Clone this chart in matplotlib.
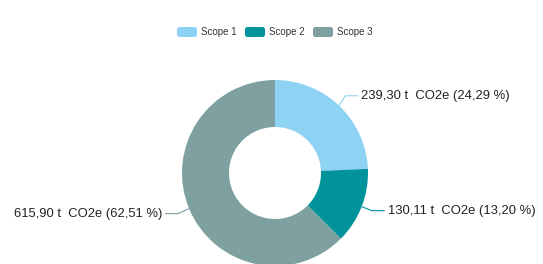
import matplotlib
matplotlib.use("Agg")
import matplotlib.pyplot as plt
from matplotlib.patches import FancyBboxPatch
import numpy as np

categories = ["Scope 1", "Scope 2", "Scope 3"]
values = [239.30, 130.11, 615.90]
colors = ["#8fd3f4", "#00939b", "#7fa0a1"]

plt.rcParams['font.family'] = ['Liberation Sans', 'DejaVu Sans']

W, H = 543, 264
fig = plt.figure(figsize=(W / 100, H / 100), dpi=100)
ax = fig.add_axes([0, 0, 1, 1])

cx, cy, R = 275, H - 173, 93
wedges, _ = ax.pie(values, colors=colors, startangle=90, counterclock=False,
                   center=(cx, cy), radius=R, frame=True,
                   wedgeprops=dict(width=R - 46, linewidth=0))
ax.set_xlim(0, W)
ax.set_ylim(0, H)
ax.axis('off')
ax.set_aspect('equal')

total = sum(values)
def fmt(v):
    return f"{v:.2f}".replace('.', ',')

# knee offsets (dx, dy) in pixels per label, horizontal length
knees = [(6, 10), (10, -4), (-11, -5)]
for w, v, (dx, dy) in zip(wedges, values, knees):
    ang = np.deg2rad((w.theta1 + w.theta2) / 2)
    ex, ey = cx + R * np.cos(ang), cy + R * np.sin(ang)
    side = 1 if dx > 0 else -1
    kx, ky = ex + dx, ey + dy
    hx = kx + side * 13
    ax.plot([ex, kx, hx], [ey, ky, ky], color=w.get_facecolor(), lw=0.8,
            solid_capstyle='butt', solid_joinstyle='round')
    label = f"{fmt(v)} t  CO2e ({fmt(v / total * 100)} %)"
    ax.text(hx + side * 3, ky, label, ha='left' if side > 0 else 'right',
            va='center', fontsize=9.4, color='#222222')

# legend
lx = [177, 245, 313]
ly = H - 32
for x, c, name in zip(lx, colors, categories):
    p = FancyBboxPatch((x, ly - 5), 20, 10,
                       boxstyle="round,pad=0,rounding_size=2.5",
                       fc=c, ec='none')
    ax.add_patch(p)
    ax.text(x + 24, ly, name, ha='left', va='center', fontsize=7,
            color='#333333')

fig.savefig("out.png", dpi=100)
